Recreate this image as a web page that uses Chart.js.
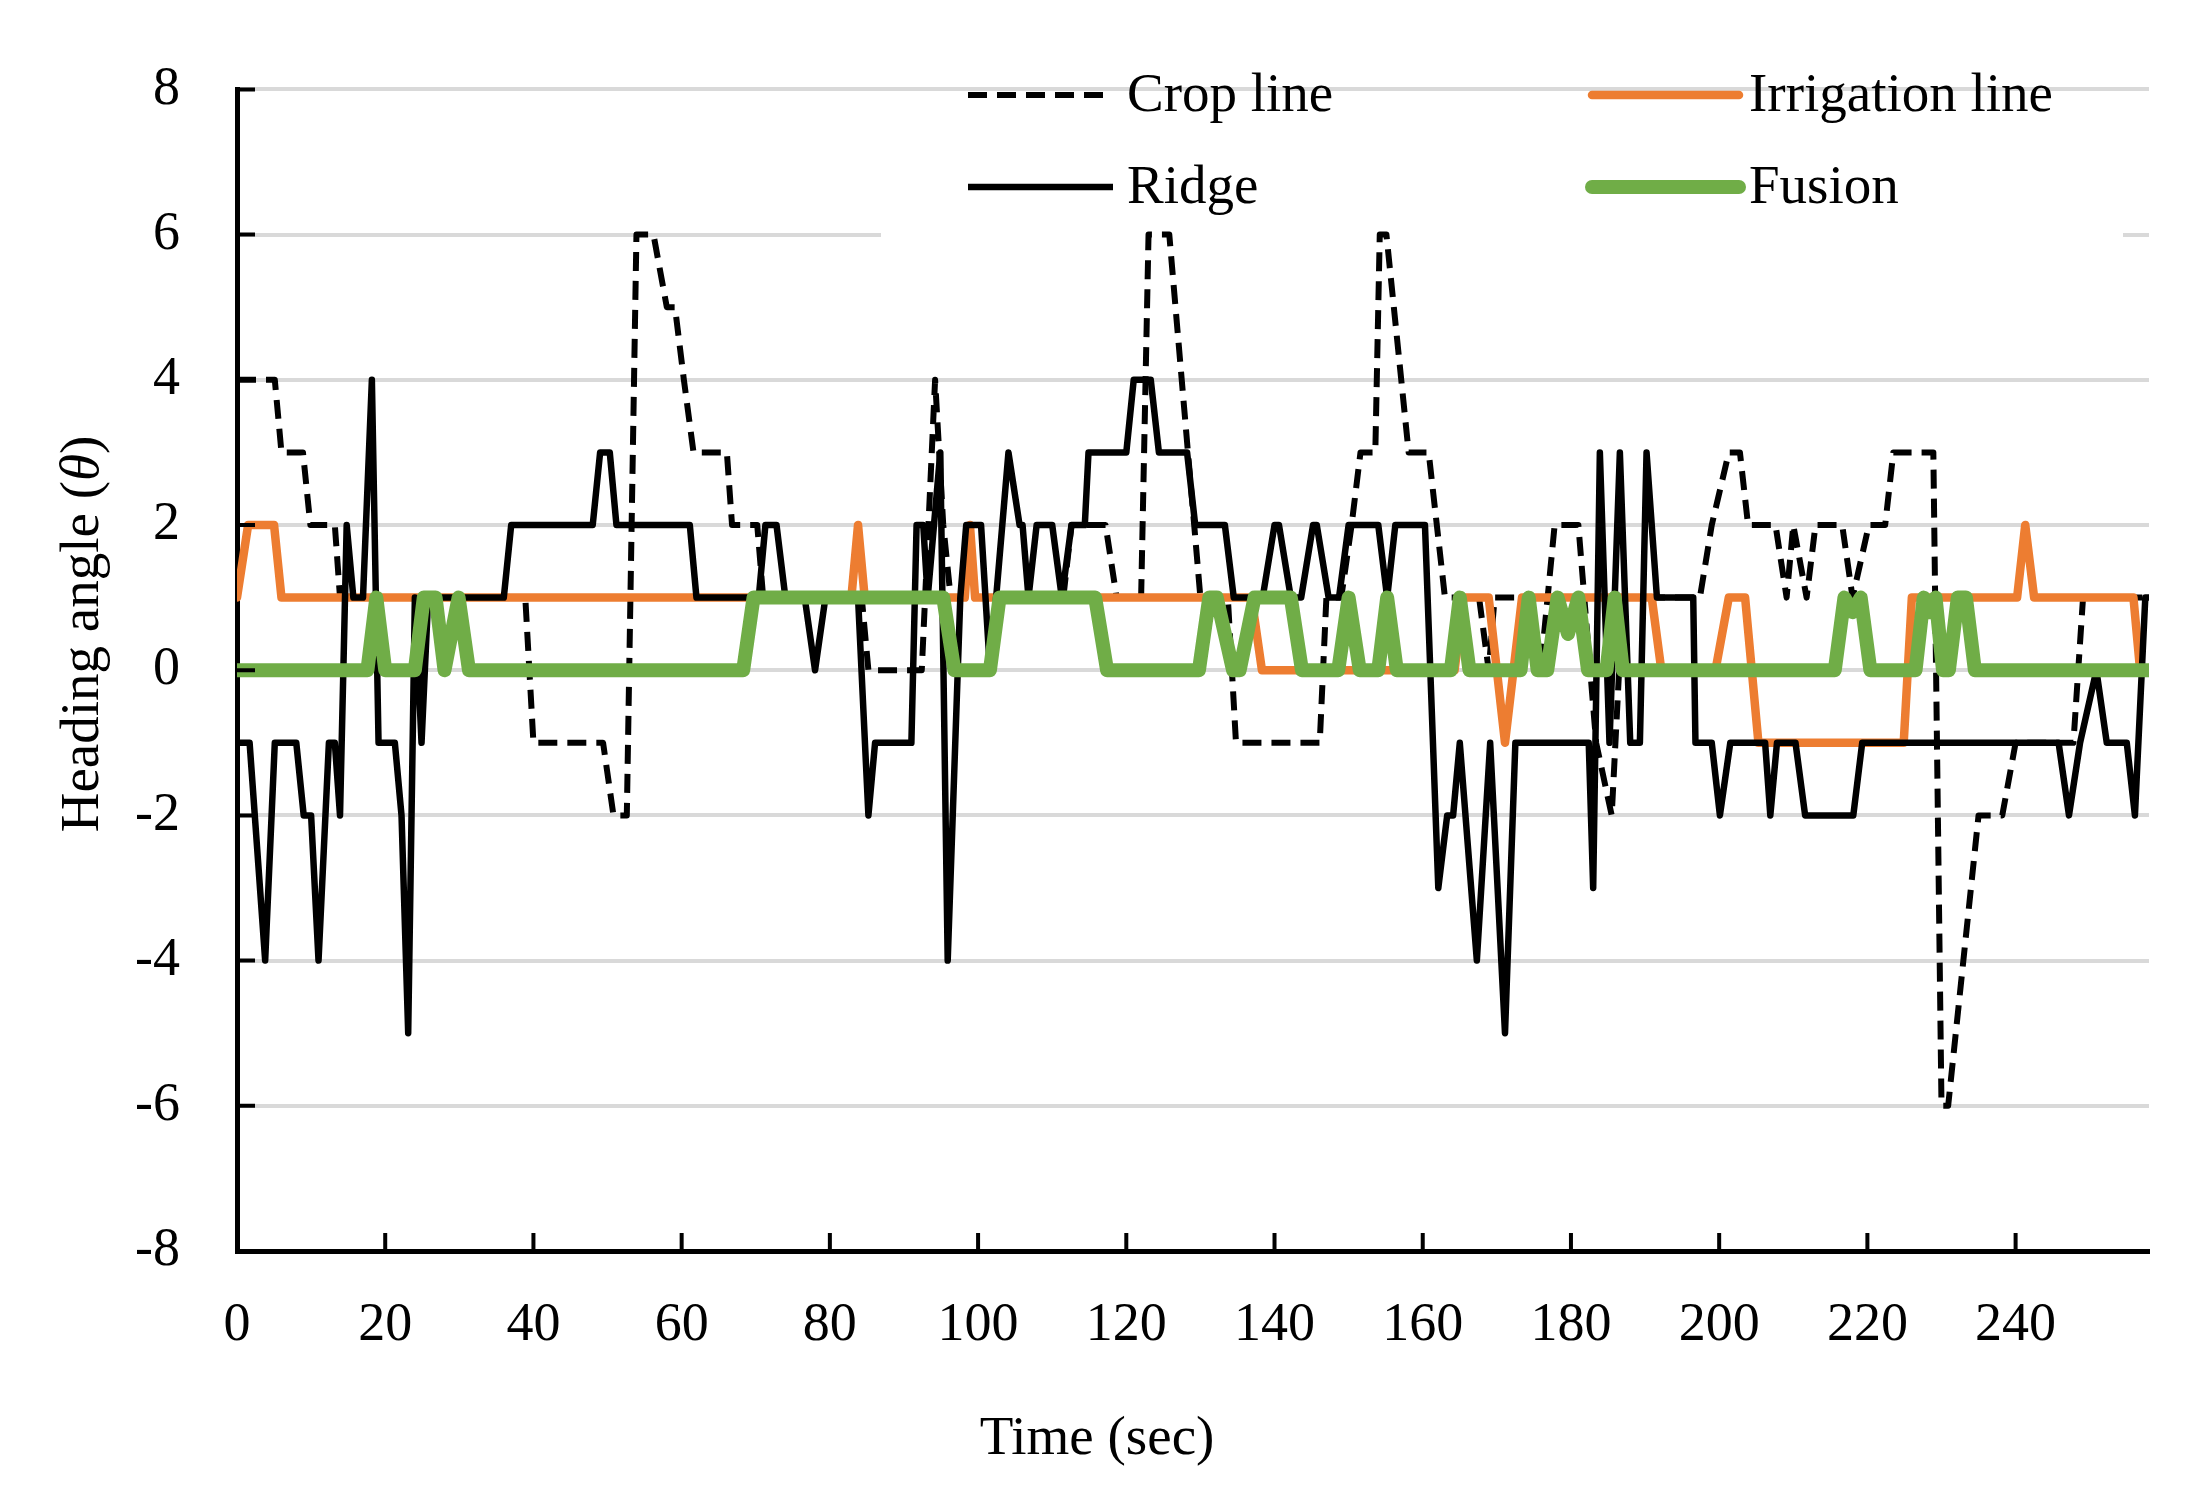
<!DOCTYPE html>
<html>
<head>
<meta charset="utf-8">
<script src="https://cdn.jsdelivr.net/npm/chart.js@4.4.1/dist/chart.umd.min.js"></script>
<style>
html,body{margin:0;padding:0;background:#fff;}
#wrap{width:2188px;height:1490px;position:relative;}
</style>
</head>
<body>
<div id="wrap"><canvas id="c"></canvas></div>
<script>
// ---------- data ----------
const xTickValues = [0,20,40,60,80,100,120,140,160,180,200,220,240];
const yTickValues = [-8,-6,-4,-2,0,2,4,6,8];
const seriesNames = ['Crop line','Irrigation line','Ridge','Fusion'];
const xTitle = 'Time (sec)';
const yTitleParts = ['Heading angle (', 'θ', ')'];

const cropT = [0,5.1,6,8.9,9.9,13.2,13.9,38.9,40,49.4,50.8,52.6,53.9,56.2,58,59.1,60.3,61.6,66.1,66.8,70.2,71,84.3,85.2,92.4,94.2,95.3,96.3,111.5,112.6,117.2,118.7,122,123,125.8,130,133.7,134.8,146.1,147,149,150.4,151.6,153.6,154.2,155.1,158.1,160.8,163,167.6,168.9,169.7,174.5,175.9,177.8,181,182.6,183.4,185.5,187,197.4,199,201.3,202.8,203.9,207.6,209.1,210,211.8,213,216.6,218,220.2,222.4,223.5,228.9,230,230.9,235,238.2,240,247.8,249.1,258];
const cropV = [4,4,3,3,2,2,1,1,-1,-1,-2,-2,6,6,5,5,4,3,3,2,2,1,1,0,0,4,2,1,1,2,2,1,1,6,6,1,1,-1,-1,1,1,2,3,3,6,6,3,3,1,1,0,1,1,0,2,2,0,-1,-2,1,1,2,3,3,2,2,1,2,1,2,2,1,2,2,3,3,-6,-6,-2,-2,-1,-1,1,1];

const irrT = [0,1.5,5,6,82.9,83.8,84.7,98.2,98.9,99.6,136.9,138.3,164.3,165.5,168.9,171.1,173.4,190.9,192.2,199.5,201.3,203.5,205.3,224.9,226,240.2,241.3,242.5,255.9,256.8,258];
const irrV = [1,2,2,1,1,2,1,1,2,1,1,0,0,1,1,-1,1,1,0,0,1,1,-1,-1,1,1,2,1,1,0,0];

const ridgeT = [0,1.7,3.8,5.1,8,9,10,11,12.4,13.2,13.9,14.8,15.7,17,18.2,19.1,21.3,22.2,23.1,24,24.9,25.8,36,37,48,49,50.3,51.2,61.1,62,70.4,71.3,72.8,74,76.6,78,79.4,83.8,85.2,86.1,91,91.7,92.6,93.2,94.9,95.9,97.6,98.4,100.4,101.6,104.1,105.6,106,106.8,107.9,110,111.3,112.6,114.4,114.9,120,121,123.3,124.4,128.2,129.3,133.3,134.5,138.4,140,140.6,142.2,143.6,145.2,145.7,147.3,148.7,150,154,155.2,156.3,160.3,162.1,163.3,164.1,165,167.3,169.1,171.1,172.5,182.4,183,183.9,185.2,186.6,188,189.3,190.2,191.6,196.5,196.8,199,200.1,201.5,206.2,206.9,207.8,210.3,211.6,218.1,219.3,245.8,247.2,248.7,250.9,252.3,255,256.1,257.5,258];
const ridgeV = [-1,-1,-4,-1,-1,-2,-2,-4,-1,-1,-2,2,1,1,4,-1,-1,-2,-5,1,-1,1,1,2,2,3,3,2,2,1,1,2,2,1,1,0,1,1,-2,-1,-1,2,2,1,3,-4,1,2,2,0,3,2,2,1,2,2,1,2,2,3,3,4,4,3,3,2,2,1,1,2,2,1,1,2,2,1,1,2,2,1,2,2,-3,-2,-2,-1,-4,-1,-5,-1,-1,-3,3,-1,3,-1,-1,3,1,1,-1,-1,-2,-1,-1,-2,-1,-1,-2,-2,-1,-1,-2,-1,0,-1,-1,-2,1,1];

const fusionT = [0,17.6,18.8,20,24,25.2,26.8,28,29.9,31.3,68.3,69.7,95.3,96.8,101.6,102.9,115.8,117.4,129.8,131.2,132.2,134.4,135.3,137.3,142.2,143.7,148.6,150,151.5,154,155.2,156.5,163.8,165,166.3,173.2,174.3,175.5,176.8,178.2,179.6,181,182.3,184.8,185.9,187,215.6,216.9,218,219.1,220.4,226.5,227.6,228.4,229.2,230.2,231,232.2,233.3,234.5,258];
const fusionV = [0,0,1,0,0,1,1,0,1,0,0,1,1,0,0,1,1,0,0,1,1,0,0,1,1,0,0,1,0,0,1,0,0,1,0,0,1,0,0,1,0.5,1,0,0,1,0,0,1,0.8,1,0,0,1,0.8,1,0,0,1,1,0,0];

// ---------- styles ----------
const FONT = '"Liberation Serif", "Times New Roman", serif';
const colCrop = '#000000', colIrr = '#ED7D31', colRidge = '#000000', colFusion = '#70AD47';

function pts(t, v) { return t.map((x, i) => ({ x: x, y: v[i] })); }

const datasets = [
  { label: seriesNames[0], data: pts(cropT, cropV), borderColor: colCrop, borderWidth: 6, borderDash: [19, 10], order: 4 },
  { label: seriesNames[1], data: pts(irrT, irrV), borderColor: colIrr, borderWidth: 8.5, order: 3, borderCapStyle: 'round' },
  { label: seriesNames[2], data: pts(ridgeT, ridgeV), borderColor: colRidge, borderWidth: 6.5, order: 2 },
  { label: seriesNames[3], data: pts(fusionT, fusionV), borderColor: colFusion, borderWidth: 14, order: 1, borderCapStyle: 'round' }
];
datasets.forEach(d => { d.pointRadius = 0; d.tension = 0; d.fill = false; d.borderJoinStyle = 'round'; });

// legend box + legend items (drawn over the grid, under the data lines)
const legendPlugin = {
  id: 'legendBox',
  beforeDatasetsDraw(chart) {
    const ctx = chart.ctx;
    ctx.save();
    ctx.fillStyle = '#ffffff';
    ctx.fillRect(881, 91, 1242, 148);
    const ds = chart.data.datasets;
    const slots = [
      { x0: 968, x1: 1113, y: 95, tx: 1127 },
      { x0: 1592, x1: 1739, y: 95, tx: 1749 },
      { x0: 968, x1: 1113, y: 187, tx: 1127 },
      { x0: 1592, x1: 1739, y: 187, tx: 1749 }
    ];
    ds.forEach((d, i) => {
      const s = slots[i];
      ctx.beginPath();
      ctx.strokeStyle = d.borderColor;
      ctx.lineWidth = d.borderWidth;
      ctx.lineCap = d.borderCapStyle || 'butt';
      ctx.setLineDash(d.borderDash || []);
      ctx.moveTo(s.x0, s.y);
      ctx.lineTo(s.x1, s.y);
      ctx.stroke();
      ctx.setLineDash([]);
      ctx.fillStyle = '#000';
      ctx.font = '55px ' + FONT;
      ctx.textAlign = 'left';
      ctx.textBaseline = 'middle';
      ctx.fillText(d.label, s.tx, s.y + 2);
    });
    ctx.restore();
  },
  afterDraw(chart) {
    const ctx = chart.ctx;
    const xs = chart.scales.x, ys = chart.scales.y;
    const area = chart.chartArea;
    ctx.save();
    // inside tick marks
    ctx.strokeStyle = '#000';
    ctx.lineWidth = 4;
    ctx.beginPath();
    yTickValues.forEach(v => {
      if (v === yTickValues[0]) return;
      const y = ys.getPixelForValue(v);
      ctx.moveTo(area.left, y); ctx.lineTo(area.left + 18, y);
    });
    xTickValues.forEach(v => {
      if (v === xTickValues[0]) return;
      const x = xs.getPixelForValue(v);
      ctx.moveTo(x, area.bottom); ctx.lineTo(x, area.bottom - 18);
    });
    ctx.stroke();
    // axis titles
    ctx.fillStyle = '#000';
    ctx.font = '55px ' + FONT;
    ctx.textAlign = 'center';
    ctx.textBaseline = 'alphabetic';
    ctx.fillText(xTitle, 1097, 1454);
    ctx.translate(98, 634);
    ctx.rotate(-Math.PI / 2);
    const fonts = ['55px ' + FONT, 'italic 55px ' + FONT, '55px ' + FONT];
    const widths = yTitleParts.map((p, i) => { ctx.font = fonts[i]; return ctx.measureText(p).width; });
    let cx = -widths.reduce((a, b) => a + b, 0) / 2;
    ctx.textAlign = 'left';
    yTitleParts.forEach((p, i) => { ctx.font = fonts[i]; ctx.fillText(p, cx, 0); cx += widths[i]; });
    ctx.restore();
  }
};

new Chart(document.getElementById('c'), {
  type: 'line',
  data: { datasets: datasets },
  plugins: [legendPlugin],
  options: {
    responsive: true,
    maintainAspectRatio: false,
    animation: false,
    parsing: true,
    layout: { padding: { top: 86, right: 39, bottom: 0, left: 0 } },
    plugins: { legend: { display: false }, title: { display: false }, tooltip: { enabled: false } },
    scales: {
      x: {
        type: 'linear',
        min: 0, max: 258,
        afterFit(s) { s.height = 239; },
        afterBuildTicks(s) { s.ticks = xTickValues.map(v => ({ value: v })); },
        grid: { display: false, drawTicks: false },
        border: { display: true, color: '#000', width: 5 },
        ticks: { color: '#000', font: { family: FONT, size: 54 }, padding: 42, maxRotation: 0, autoSkip: false,
                 callback: v => String(v) }
      },
      y: {
        type: 'linear',
        min: -8, max: 8,
        afterFit(s) { s.width = 237; },
        afterBuildTicks(s) { s.ticks = yTickValues.map(v => ({ value: v })); },
        grid: { color: '#d9d9d9', lineWidth: 4, drawTicks: false },
        border: { display: true, color: '#000', width: 5 },
        ticks: { color: '#000', font: { family: FONT, size: 54 }, padding: 57, callback: v => String(v) }
      }
    }
  }
});
</script>
</body>
</html>
